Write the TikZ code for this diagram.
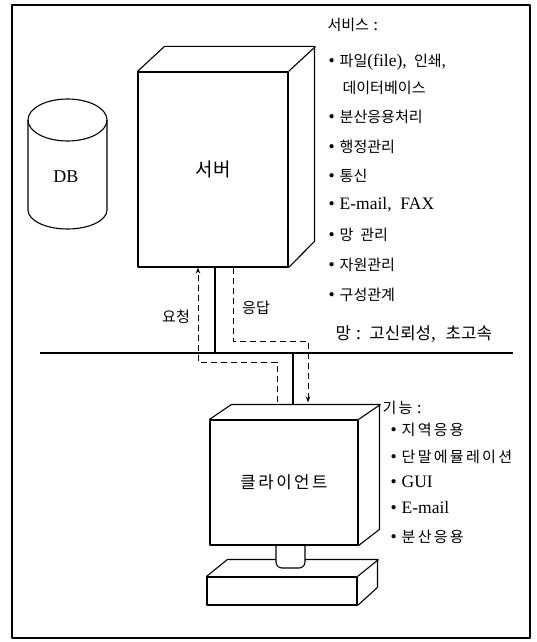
\documentclass[tikz,border=0pt]{standalone}
\usepackage{fontspec}
\setmainfont{Liberation Serif}
\newfontfamily\kr[Scale=0.86]{Noto Sans CJK KR}
\newfontfamily\krw[Scale=0.86,LetterSpace=15]{Noto Sans CJK KR}
\usetikzlibrary{arrows.meta,calc}

\newcommand{\itemdot}{\textbullet\hspace{5pt}}

\tikzset{
  unit/.style={draw, fill=white, inner sep=0pt, line width=1.1pt},
  item/.style={anchor=west, inner sep=0pt, font=\fontsize{17.5}{20}\selectfont},
  flow/.style={line width=1pt, dash pattern=on 6pt off 4pt,
               -{Stealth[length=6pt,width=4.5pt]}},
  wire/.style={line width=1.1pt}
}

\begin{document}
\begin{tikzpicture}[x=1pt,y=-1pt,line width=1.1pt,line join=round]
\useasboundingbox (0,0) rectangle (537,642);

% outer frame
\draw (12,5) rectangle (530,638);

% database cylinder
\draw (67.5,120) ellipse[x radius=39.5pt, y radius=21pt];
\draw (28,120) -- (28,210) arc[start angle=180, end angle=360, x radius=39.5pt, y radius=19pt] -- (107,120);
\node[font=\fontsize{18}{20}\selectfont] (db) at (66,177) {DB};

% server cabinet
\node[unit, minimum width=150pt, minimum height=195pt,
      font=\fontsize{22}{24}\selectfont] (server) at (213,169.5) {\kr 서버};
\draw (server.north west) -- ++(27,-25) -- ++(150,0) -- ++(0,195) -- (server.south east);
\draw (server.north east) -- ++(27,-25);

% network backbone
\coordinate (netW) at (40,353);
\coordinate (netE) at (513,353);
\draw[wire] (netW) -- (netE);
\node[anchor=west, inner sep=0pt, font=\fontsize{19.5}{22}\selectfont] (netlabel) at (335,334)
  {{\kr 망}\ :\ \,{\kr 고신뢰성},\ \ {\kr 초고속}};

% taps onto the backbone
\coordinate (tapS) at (215,353);
\coordinate (tapC) at (293,353);
\draw[wire] (server.south -| tapS) -- (tapS);

% client base and neck
\node[unit, minimum width=150pt, minimum height=28pt] (base) at (282,591) {};
\draw (base.north west) -- ++(21,-17) -- ++(150,0) -- ++(0,28) -- (base.south east);
\draw (base.north east) -- ++(21,-17);
\draw[fill=white, rounded corners=6pt] (276,543) -- (276,568) -- (305,568) -- (305,543);

% client monitor
\node[unit, minimum width=148pt, minimum height=125pt,
      font=\fontsize{19.5}{22}\selectfont] (client) at (284,482.5) {\krw 클라이언트};
\draw (client.north west) -- ++(22,-15) -- ++(148,0) -- ++(0,125) -- (client.south east);
\draw (client.north east) -- ++(22,-15);
\draw[wire] (tapC) -- ($(tapC |- client.north)+(0,-15)$);

% request and response flows
\coordinate (reqA) at (277,362);
\coordinate (reqB) at (198,362);
\draw[flow] ($(reqA |- client.north)+(0,-17)$) -- (reqA) -- (reqB) -- (reqB |- server.south);
\node[font=\fontsize{17.5}{20}\selectfont] (reqlabel) at (176,317) {\kr 요청};

\coordinate (resA) at (233,341);
\coordinate (resB) at (308,341);
\draw[flow] (resA |- server.south) -- (resA) -- (resB) -- ($(resB |- client.north)+(0,-17)$);
\node[font=\fontsize{17.5}{20}\selectfont] (reslabel) at (256,308) {\kr 응답};

% server services
\node[item] (s0) at (327,25) {{\kr 서비스}\ :};
\node[item] (s1) at (328,62) {\itemdot{\kr 파일}(file),\ \,{\kr 인쇄},};
\node[item] (s2) at (342,88) {\kr 데이터베이스};
\node[item] (s3) at (328,117) {\itemdot{\kr 분산응용처리}};
\node[item] (s4) at (328,147) {\itemdot{\kr 행정관리}};
\node[item] (s5) at (328,176) {\itemdot{\kr 통신}};
\node[item] (s6) at (328,205) {\itemdot E-mail,\ \ FAX};
\node[item] (s7) at (328,235) {\itemdot{\kr 망\ \ 관리}};
\node[item] (s8) at (328,265) {\itemdot{\kr 자원관리}};
\node[item] (s9) at (328,295) {\itemdot{\kr 구성관계}};

% client functions
\node[item] (c0) at (382,408) {{\krw 기능}\ :};
\node[item] (c1) at (390,430) {\itemdot{\krw 지역응용}};
\node[item] (c2) at (390,457) {\itemdot{\krw 단말에뮬레이션}};
\node[item] (c3) at (390,482) {\itemdot GUI};
\node[item] (c4) at (390,508) {\itemdot E-mail};
\node[item] (c5) at (390,537) {\itemdot{\krw 분산응용}};
\end{tikzpicture}
\end{document}
